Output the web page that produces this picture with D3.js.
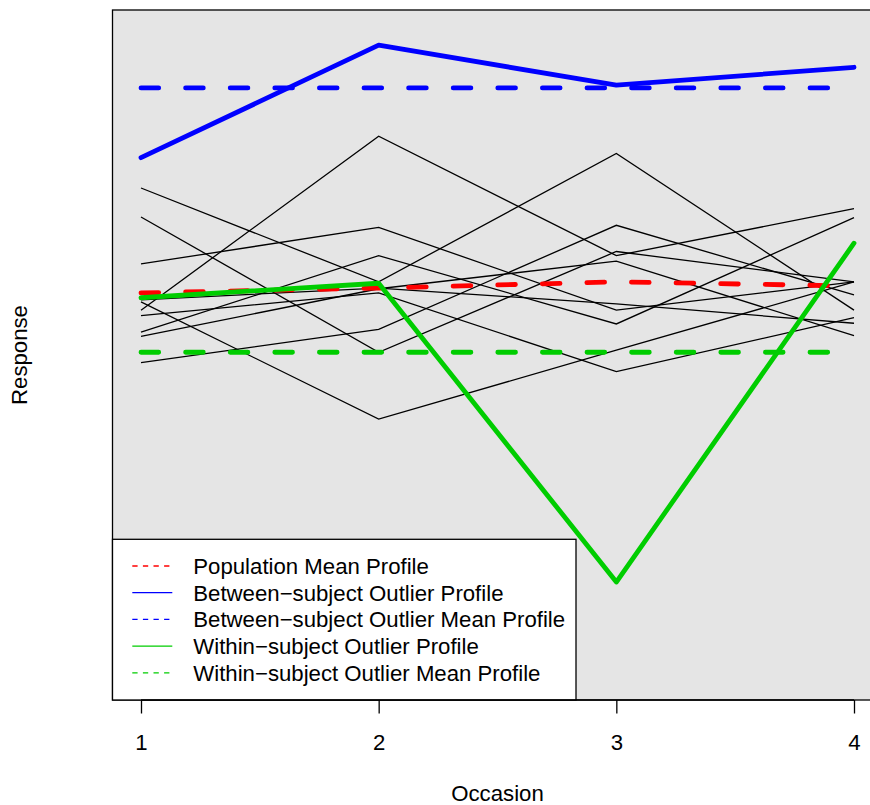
<!DOCTYPE html>
<html>
<head>
<meta charset="utf-8">
<script src="https://cdn.jsdelivr.net/npm/d3@7"></script>
<style>
  html, body { margin: 0; padding: 0; background: #ffffff; }
  svg { display: block; }
  text { font-family: "Liberation Sans", Arial, sans-serif; fill: #000; }
</style>
</head>
<body>
<svg id="chart" width="870" height="805"></svg>
<script>
// ---------------- data ----------------
const occasions = [1, 2, 3, 4];
const xTickLabels = ["1", "2", "3", "4"];

// individual subject profiles (response at occasions 1..4)
const subjectProfiles = [
  [56.5, 81.7, 64.4, 71.2],
  [74.2, 60.6, 79.2, 56.5],
  [63.2, 68.5, 56.5, 60.6],
  [53.3, 64.4, 54.5, 69.9],
  [57.7, 40.7, 50.7, 60.6],
  [70.0, 50.4, 65.0, 60.6],
  [48.9, 53.7, 68.8, 58.7],
  [55.7, 59.0, 47.6, 55.4],
  [52.7, 59.6, 63.6, 52.8],
  [58.0, 59.7, 57.4, 54.6]
];
const populationMean = [59.0, 59.7, 60.6, 60.0];
const betweenOutlier = [78.6, 94.9, 89.1, 91.7];
const betweenOutlierMean = [88.7, 88.7, 88.7, 88.7];
const withinOutlier = [58.3, 60.4, 17.1, 66.2];
const withinOutlierMean = [50.4, 50.4, 50.4, 50.4];

const legendLabels = [
  "Population Mean Profile",
  "Between\u2212subject Outlier Profile",
  "Between\u2212subject Outlier Mean Profile",
  "Within\u2212subject Outlier Profile",
  "Within\u2212subject Outlier Mean Profile"
];
const legendColors = ["#FF0000", "#0000FF", "#0000FF", "#00CD00", "#00CD00"];
const legendDashed = [true, false, true, false, true];

// ---------------- layout ----------------
const svg = d3.select("#chart");
const box = { left: 112.5, right: 882.5, top: 10, bottom: 700 };
const x = d3.scaleLinear().domain([1, 4]).range([141, 854]);
const y = d3.scaleLinear().domain([0, 100]).range([box.bottom, box.top]);
const fontSize = 22.2;

svg.append("rect")
  .attr("x", box.left).attr("y", box.top)
  .attr("width", box.right - box.left).attr("height", box.bottom - box.top)
  .attr("fill", "#E5E5E5");

const line = d3.line().x((d, i) => x(occasions[i])).y(d => y(d));

const plot = svg.append("g");

plot.selectAll("path.subj").data(subjectProfiles).join("path")
  .attr("class", "subj")
  .attr("d", line)
  .attr("fill", "none").attr("stroke", "#000").attr("stroke-width", 1.3);

const thick = 4.8;
const dash = "17.7,26.9";
function drawLine(vals, color, dashed) {
  const p = plot.append("path").datum(vals)
    .attr("d", line)
    .attr("fill", "none")
    .attr("stroke", color)
    .attr("stroke-width", thick)
    .attr("stroke-linecap", "round")
    .attr("stroke-linejoin", "round");
  if (dashed) p.attr("stroke-dasharray", dash);
}
drawLine(populationMean, "#FF0000", true);
drawLine(betweenOutlier, "#0000FF", false);
drawLine(betweenOutlierMean, "#0000FF", true);
drawLine(withinOutlier, "#00CD00", false);
drawLine(withinOutlierMean, "#00CD00", true);

// box border
svg.append("rect")
  .attr("x", box.left).attr("y", box.top)
  .attr("width", box.right - box.left).attr("height", box.bottom - box.top)
  .attr("fill", "none").attr("stroke", "#000").attr("stroke-width", 1.3);

// ---------------- legend ----------------
const leg = { x: 112.5, y: 539.3, w: 463.5, h: 160.7 };
svg.append("rect")
  .attr("x", leg.x).attr("y", leg.y).attr("width", leg.w).attr("height", leg.h)
  .attr("fill", "#ffffff").attr("stroke", "#000").attr("stroke-width", 1.3);

const rowY = i => 566 + i * 26.7;
const lg = svg.append("g");
legendLabels.forEach((lab, i) => {
  const l = lg.append("line")
    .attr("x1", 132.3).attr("x2", 172.3)
    .attr("y1", rowY(i)).attr("y2", rowY(i))
    .attr("stroke", legendColors[i]).attr("stroke-width", 1.3);
  if (legendDashed[i]) l.attr("stroke-dasharray", "5.3,5.3");
  lg.append("text")
    .attr("x", 193.3).attr("y", rowY(i) + 8)
    .attr("font-size", fontSize)
    .text(lab);
});

// ---------------- axes ----------------
const xAxis = d3.axisBottom(x)
  .tickValues(occasions)
  .tickFormat((d, i) => xTickLabels[i])
  .tickSize(13.5)
  .tickPadding(22);
const ax = svg.append("g").attr("transform", `translate(0,${box.bottom})`).call(xAxis);
ax.select(".domain").attr("stroke", "#000").attr("stroke-width", 1.3)
  .attr("d", `M${x(1)},0H${x(4)}`);
ax.selectAll(".tick line").attr("stroke", "#000").attr("stroke-width", 1.3);
ax.selectAll(".tick text")
  .attr("font-family", "Liberation Sans, Arial, sans-serif")
  .attr("font-size", fontSize)
  .attr("dy", null)
  .attr("y", 50);

svg.append("text")
  .attr("x", (box.left + box.right) / 2).attr("y", 801)
  .attr("text-anchor", "middle").attr("font-size", fontSize)
  .text("Occasion");

svg.append("text")
  .attr("transform", `translate(27,${(box.top + box.bottom) / 2}) rotate(-90)`)
  .attr("text-anchor", "middle").attr("font-size", fontSize)
  .text("Response");
</script>
</body>
</html>
